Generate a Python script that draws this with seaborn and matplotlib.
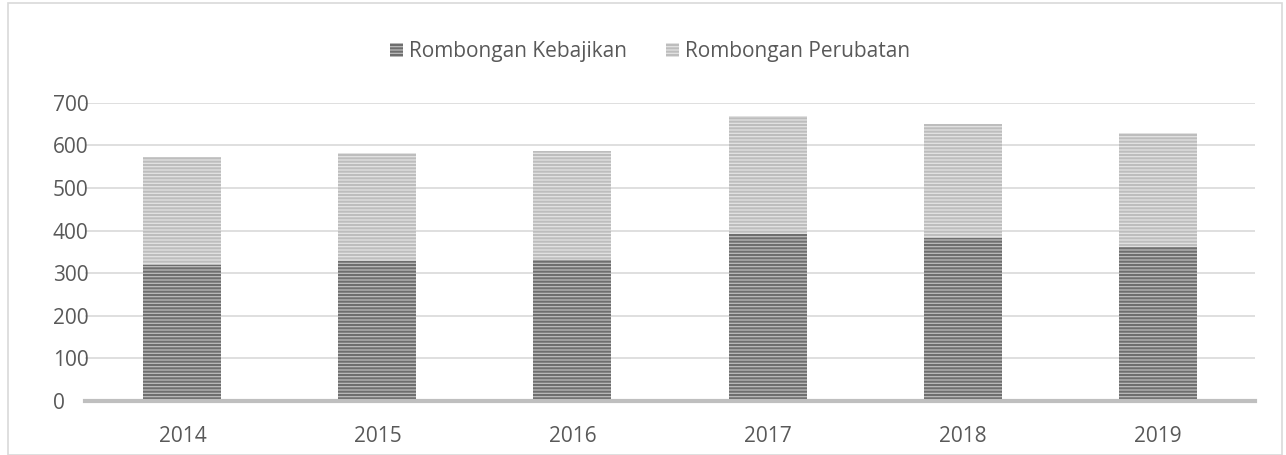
import matplotlib
matplotlib.use("Agg")
import matplotlib.pyplot as plt
import seaborn as sns
import pandas as pd
from matplotlib.patches import Rectangle

years = ["2014", "2015", "2016", "2017", "2018", "2019"]
kebajikan = [320, 328, 332, 393, 383, 362]
perubatan = [253, 254, 254, 277, 267, 268]

sns.set_style("white")
plt.rcParams['font.family'] = ['Open Sans', 'DejaVu Sans']
plt.rcParams['hatch.linewidth'] = 1.5

df = pd.DataFrame({"year": years, "kebajikan": kebajikan, "perubatan": perubatan})

fig = plt.figure(figsize=(12.86, 4.55), dpi=100)
ax = fig.add_axes([0.066, 0.119, 0.910, 0.655])

sns.barplot(data=df, x="year", y="kebajikan", color="#bcbcbc", width=0.4,
            saturation=1, ax=ax, label="Rombongan Kebajikan")
sns.barplot(data=df, x="year", y="perubatan", bottom=df["kebajikan"], color="#e3e3e3",
            width=0.4, saturation=1, ax=ax, label="Rombongan Perubatan")

n = len(years)
for i, p in enumerate(ax.patches):
    p.set_linewidth(0)
    p.set_hatch("-----")
    p.set_edgecolor("#6e6e6e" if i < n else "#bdbdbd")

ax.set_ylim(0, 700)
ax.set_yticks(range(0, 701, 100))
ax.yaxis.grid(True, color="#d9d9d9", linewidth=1.2)
ax.set_axisbelow(True)
for s in ["top", "right", "left"]:
    ax.spines[s].set_visible(False)
ax.spines["bottom"].set_color("#bfbfbf")
ax.spines["bottom"].set_linewidth(3)
ax.tick_params(axis="both", length=0, labelsize=15, colors="#595959")
ax.tick_params(axis="y", pad=23)
ax.tick_params(axis="x", pad=18)
for t in ax.get_yticklabels():
    t.set_horizontalalignment("left")
ax.set_xlabel("")
ax.set_ylabel("")

leg = ax.legend(loc="center", bbox_to_anchor=(0.483, 1.171), ncol=2, frameon=False,
                fontsize=15, handlelength=0.62, handleheight=0.62, columnspacing=1.9,
                handletextpad=0.29)
for t in leg.get_texts():
    t.set_color("#595959")

fig.patches.append(Rectangle((0.006, 0.0), 0.991, 0.993, transform=fig.transFigure,
                             fill=False, edgecolor="#d9d9d9", linewidth=1.2))

fig.savefig("out.png", dpi=100)
